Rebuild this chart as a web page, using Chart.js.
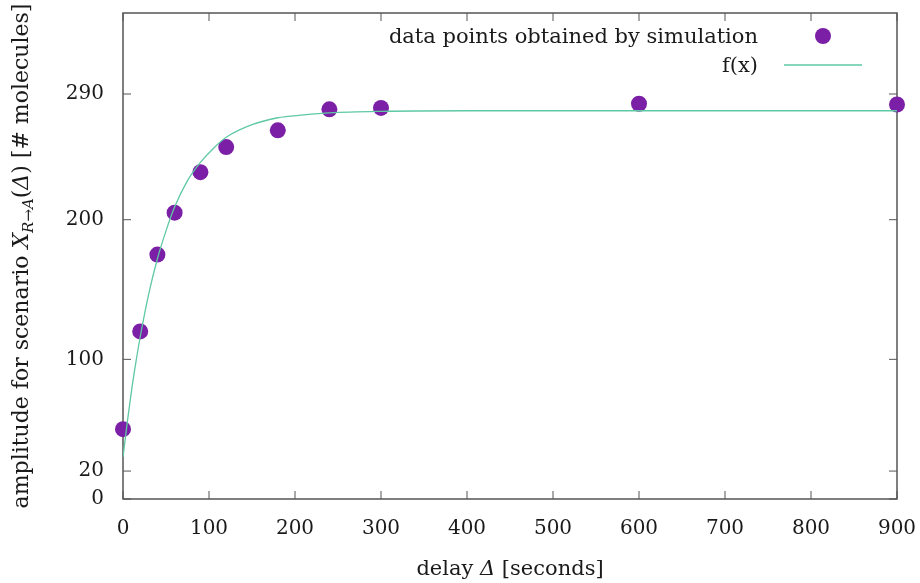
<!DOCTYPE html>
<html>
<head>
<meta charset="utf-8">
<script src="https://cdn.jsdelivr.net/npm/chart.js@4.4.1/dist/chart.umd.min.js"></script>
<style>
  html, body { margin: 0; padding: 0; background: #fff; }
  #wrap { width: 920px; height: 583px; }
</style>
</head>
<body>
<div id="wrap"><canvas id="myChart"></canvas></div>
<script>
'use strict'

// simulation results
const delays = [0, 20, 40, 60, 90, 120, 180, 240, 300, 600, 900]
const amplitudes = [50, 120, 175, 205, 234, 252, 264, 279, 280, 283, 282.5]

// fitted curve f(x)
const fitX = [0, 5, 10, 15, 20, 30, 40, 50, 60, 75, 90, 105, 120, 150, 180, 210, 240, 300, 400, 600, 900]
const fitY = [30, 55, 78, 98, 116, 147, 172, 192, 209, 228, 241, 251, 259, 268, 273, 275, 276.5, 277.6, 278, 278, 278]

const xTicks = [0, 100, 200, 300, 400, 500, 600, 700, 800, 900]
const yTicks = [0, 20, 100, 200, 290]

const legendLabels = ['data points obtained by simulation', 'f(x)']

const FONT = '"DejaVu Serif", "Liberation Serif", serif'
const textColor = '#1a1a1a'
const frameColor = '#555'

const xTitle = [
  { t: 'delay ' },
  { t: 'Δ', it: true },
  { t: ' [seconds]' }
]
const yTitle = [
  { t: 'amplitude for scenario ' },
  { t: 'X', it: true },
  { t: 'R→A', it: true, sub: true },
  { t: '(' },
  { t: 'Δ', it: true },
  { t: ')' },
  { t: ' [# molecules]' }
]

const fontFor = (p, size) => `${p.it ? 'italic ' : ''}${p.sub ? Math.round(size * 0.7) : size}px ${FONT}`

const drawParts = (ctx, parts, cx, y, size) => {
  let total = 0
  parts.forEach((p) => {
    ctx.font = fontFor(p, size)
    total += ctx.measureText(p.t).width
  })
  let x = cx - total / 2
  parts.forEach((p) => {
    ctx.font = fontFor(p, size)
    ctx.fillText(p.t, x, y + (p.sub ? 5 : 0))
    x += ctx.measureText(p.t).width
  })
}

// box round the plot with gnuplot-like inward ticks
const framePlugin = {
  id: 'frame',
  beforeDatasetsDraw(chart) {
    const { ctx, chartArea: a, scales } = chart
    ctx.save()
    ctx.strokeStyle = frameColor
    ctx.lineWidth = 1
    ctx.beginPath()
    scales.x.ticks.forEach((t) => {
      const px = scales.x.getPixelForValue(t.value)
      ctx.moveTo(px, a.bottom); ctx.lineTo(px, a.bottom - 8)
      ctx.moveTo(px, a.top); ctx.lineTo(px, a.top + 8)
    })
    scales.y.ticks.forEach((t) => {
      const py = scales.y.getPixelForValue(t.value)
      ctx.moveTo(a.left, py); ctx.lineTo(a.left + 8, py)
      ctx.moveTo(a.right, py); ctx.lineTo(a.right - 8, py)
    })
    ctx.stroke()
    ctx.lineWidth = 1.5
    ctx.strokeRect(a.left, a.top, a.right - a.left, a.bottom - a.top)
    ctx.restore()
  }
}

// key in the top right corner, text right aligned
const keyPlugin = {
  id: 'key',
  afterDraw(chart) {
    const { ctx, chartArea: a } = chart
    const ds = chart.data.datasets
    ctx.save()
    ctx.font = `21px ${FONT}`
    ctx.textAlign = 'right'
    ctx.textBaseline = 'alphabetic'
    legendLabels.forEach((label, i) => {
      const rowY = a.top + 23 + i * 29
      ctx.fillStyle = textColor
      ctx.fillText(label, a.right - 139, rowY + 7)
      if (i === 0) {
        ctx.fillStyle = ds[0].backgroundColor
        ctx.beginPath()
        ctx.arc(a.right - 74, rowY, 8, 0, Math.PI * 2)
        ctx.fill()
      } else {
        ctx.strokeStyle = ds[1].borderColor
        ctx.lineWidth = ds[1].borderWidth
        ctx.beginPath()
        ctx.moveTo(a.right - 113, rowY)
        ctx.lineTo(a.right - 35, rowY)
        ctx.stroke()
      }
    })
    ctx.restore()
  }
}

const titlePlugin = {
  id: 'axisTitles',
  afterDraw(chart) {
    const { ctx, chartArea: a } = chart
    ctx.save()
    ctx.fillStyle = textColor
    ctx.textAlign = 'left'
    ctx.textBaseline = 'alphabetic'
    drawParts(ctx, xTitle, (a.left + a.right) / 2, 575, 21)
    ctx.translate(28, (a.top + a.bottom) / 2)
    ctx.rotate(-Math.PI / 2)
    drawParts(ctx, yTitle, 0, 0, 22)
    ctx.restore()
  }
}

Chart.defaults.font.family = FONT
Chart.defaults.font.size = 20
Chart.defaults.color = textColor

const ctx = document.getElementById('myChart')

const myChart = new Chart(ctx, {
  type: 'scatter',
  data: {
    datasets: [
      {
        label: legendLabels[0],
        data: delays.map((d, i) => ({ x: d, y: amplitudes[i] })),
        backgroundColor: '#7b1fa6',
        borderWidth: 0,
        pointRadius: 8,
        pointHoverRadius: 8,
        clip: false,
        order: 1
      },
      {
        label: legendLabels[1],
        data: fitX.map((d, i) => ({ x: d, y: fitY[i] })),
        showLine: true,
        borderColor: '#5ec9a3',
        backgroundColor: '#5ec9a3',
        borderWidth: 1.3,
        pointRadius: 0,
        cubicInterpolationMode: 'monotone',
        order: 0
      }
    ]
  },
  options: {
    responsive: true,
    maintainAspectRatio: false,
    animation: false,
    layout: { padding: { left: 0, top: 13, right: 23, bottom: 0 } },
    plugins: {
      legend: { display: false },
      tooltip: { enabled: false }
    },
    scales: {
      x: {
        type: 'linear',
        min: 0,
        max: 900,
        grid: { display: false, drawTicks: false },
        border: { display: false },
        ticks: { padding: 18, autoSkip: false, maxRotation: 0 },
        afterBuildTicks: (s) => { s.ticks = xTicks.map((v) => ({ value: v })) },
        afterFit: (s) => {
          s.height = 84
          s.paddingLeft = 0
          s.paddingRight = 0
        }
      },
      y: {
        type: 'linear',
        min: 0,
        max: 348,
        grid: { display: false, drawTicks: false },
        border: { display: false },
        ticks: { padding: 19, autoSkip: false },
        afterBuildTicks: (s) => { s.ticks = yTicks.map((v) => ({ value: v })) },
        afterFit: (s) => {
          s.width = 123
          s.paddingTop = 0
          s.paddingBottom = 0
        }
      }
    }
  },
  plugins: [framePlugin, keyPlugin, titlePlugin]
})
</script>
</body>
</html>
